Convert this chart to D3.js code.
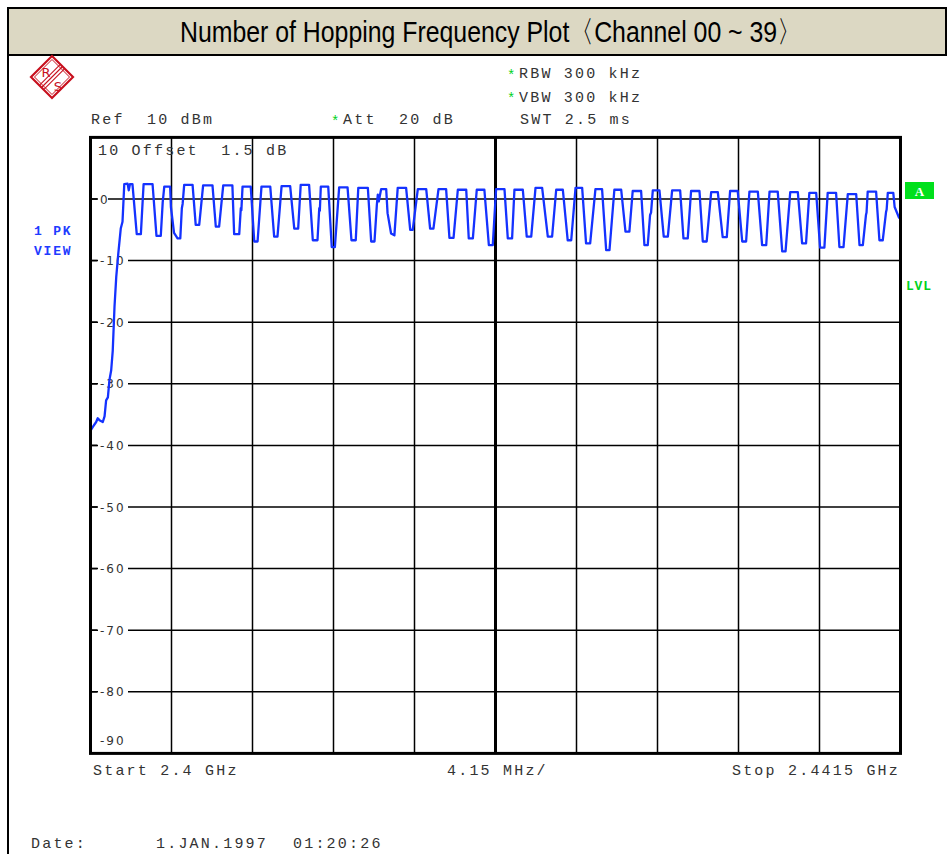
<!DOCTYPE html>
<html>
<head>
<meta charset="utf-8">
<script src="https://cdn.jsdelivr.net/npm/d3@7"></script>
<style>
  html, body { margin: 0; padding: 0; background: #fff; }
  svg { display: block; }
</style>
</head>
<body>
<svg id="chart" width="952" height="854"></svg>
<script>
// ---------------- DATA ----------------
const titleText = "Number of Hopping Frequency Plot\u3008Channel 00 ~ 39\u3009";
const startFreqMHz = 2400;
const stopFreqMHz = 2441.5;
const spanPerDivMHz = 4.15;
const refLevelDbm = 10;
const bottomLevelDbm = -90;
const levelTicks = [0, -10, -20, -30, -40, -50, -60, -70, -80, -90];
const levelTickLabels = ["0", "-10", "-20", "-30", "-40", "-50", "-60", "-70", "-80", "-90"];
const headerLeft = ["Ref  10 dBm"];
const headerAtt = ["Att  20 dB"];
const headerRight = ["RBW 300 kHz", "VBW 300 kHz", "SWT 2.5 ms"];
const offsetLabel = "10 Offset  1.5 dB";
const footerStart = "Start 2.4 GHz";
const footerSpan = "4.15 MHz/";
const footerStop = "Stop 2.4415 GHz";
const dateLabel = ["Date:", "1.JAN.1997", "01:20:26"];

// trace: [frequency MHz, level dBm]
const trace = [
  [2400.00,-37.6],[2400.12,-37.0],[2400.29,-36.2],[2400.37,-35.6],[2400.46,-35.9],[2400.63,-36.2],
  [2400.72,-35.3],[2400.80,-32.7],[2400.89,-32.2],[2400.97,-29.4],[2401.06,-27.8],[2401.14,-24.6],
  [2401.23,-17.5],[2401.32,-12.6],[2401.42,-9.0],[2401.55,-4.8],[2401.64,-3.7],
  [2401.73,2.4],[2401.90,2.5],[2401.96,1.4],[2402.02,2.4],[2402.15,2.4],[2402.37,-5.7],[2402.58,-5.7],
  [2402.72,2.4],[2403.18,2.4],[2403.38,-6.0],[2403.60,-6.0],
  [2403.70,-0.5],[2403.78,2.0],[2404.08,2.0],[2404.12,-1.3],[2404.28,-5.5],[2404.46,-6.4],[2404.60,-6.4],[2404.68,-1.5],[2404.72,-0.8],
  [2404.80,2.3],[2405.23,2.3],[2405.39,-4.2],[2405.57,-4.2],
  [2405.77,2.2],[2406.25,2.2],[2406.42,-4.5],[2406.59,-4.5],
  [2406.80,2.2],[2407.27,2.2],[2407.36,-5.7],[2407.62,-5.7],[2407.70,-1.5],[2407.73,-1.8],
  [2407.79,2.0],[2408.21,2.0],[2408.39,-6.9],[2408.56,-6.9],
  [2408.76,2.0],[2409.21,2.0],[2409.41,-6.1],[2409.58,-6.1],
  [2409.79,2.1],[2410.23,2.1],[2410.44,-4.8],[2410.64,-4.8],
  [2410.77,2.3],[2411.20,2.3],[2411.39,-6.7],[2411.63,-6.7],[2411.72,-1.5],[2411.75,-1.9],
  [2411.80,2.0],[2412.18,2.0],[2412.36,-7.8],[2412.52,-7.8],
  [2412.74,1.9],[2413.17,1.9],[2413.37,-6.7],[2413.59,-6.7],
  [2413.72,1.8],[2414.21,1.8],[2414.38,-6.9],[2414.55,-6.9],
  [2414.67,-1.0],[2414.72,0.7],[2414.77,-0.4],[2414.89,1.6],[2415.15,1.6],[2415.22,-2.3],[2415.40,-5.6],[2415.57,-5.9],
  [2415.74,1.8],[2416.17,1.8],[2416.38,-5.0],[2416.51,-5.0],
  [2416.77,1.6],[2417.20,1.6],[2417.40,-4.8],[2417.57,-4.8],
  [2417.83,1.6],[2418.22,1.6],[2418.39,-6.3],[2418.60,-6.3],
  [2418.82,1.5],[2419.25,1.5],[2419.38,-6.4],[2419.59,-6.4],
  [2419.79,1.5],[2420.18,1.5],[2420.41,-7.5],[2420.61,-7.5],
  [2420.78,1.6],[2421.21,1.6],[2421.38,-6.4],[2421.60,-6.4],
  [2421.72,1.5],[2422.15,1.5],[2422.35,-6.1],[2422.58,-6.1],
  [2422.80,1.8],[2423.14,1.8],[2423.43,-6.1],[2423.65,-6.1],
  [2423.86,1.5],[2424.20,1.5],[2424.45,-6.7],[2424.63,-6.7],
  [2424.85,1.8],[2425.19,1.8],[2425.39,-7.2],[2425.60,-7.2],
  [2425.87,1.6],[2426.21,1.6],[2426.42,-8.3],[2426.59,-8.3],
  [2426.84,1.5],[2427.19,1.5],[2427.41,-5.3],[2427.61,-5.3],
  [2427.78,1.3],[2428.21,1.3],[2428.38,-7.5],[2428.55,-7.5],[2428.67,-2.6],[2428.72,-2.2],
  [2428.81,1.4],[2429.15,1.4],[2429.37,-6.1],[2429.58,-6.1],
  [2429.80,1.4],[2430.21,1.4],[2430.38,-6.4],[2430.60,-6.4],
  [2430.77,1.3],[2431.20,1.3],[2431.37,-6.9],[2431.57,-6.9],
  [2431.80,1.1],[2432.14,1.1],[2432.39,-6.2],[2432.60,-6.2],
  [2432.77,1.3],[2433.16,1.3],[2433.39,-6.9],[2433.59,-6.9],
  [2433.76,1.2],[2434.19,1.2],[2434.41,-7.5],[2434.62,-7.5],
  [2434.79,1.2],[2435.21,1.2],[2435.44,-8.5],[2435.61,-8.5],
  [2435.85,1.1],[2436.24,1.1],[2436.46,-7.2],[2436.66,-7.2],
  [2436.83,1.0],[2437.18,1.0],[2437.38,-7.9],[2437.60,-7.9],
  [2437.77,1.0],[2438.20,1.0],[2438.37,-7.8],[2438.58,-7.8],
  [2438.80,0.8],[2439.23,0.8],[2439.40,-7.5],[2439.57,-7.5],[2439.73,-2.6],[2439.76,-2.2],
  [2439.82,1.2],[2440.25,1.2],[2440.42,-6.7],[2440.59,-6.7],[2440.76,-2.1],[2440.79,-1.7],
  [2440.85,1.0],[2441.13,1.0],[2441.20,-1.3],[2441.42,-3.0],[2441.50,-3.2]
];

// ---------------- DRAW ----------------
const svg = d3.select("#chart");
const MONO = "'Liberation Mono', 'DejaVu Sans Mono', monospace";
const TXT = "#333";

const plot = { left: 90.5, right: 900.5, top: 137.4, bottom: 753.4 };
const x = d3.scaleLinear().domain([startFreqMHz, stopFreqMHz]).range([plot.left, plot.right]);
const y = d3.scaleLinear().domain([bottomLevelDbm, refLevelDbm]).range([plot.bottom, plot.top]);

// title box
svg.append("rect").attr("x", 8).attr("y", 8).attr("width", 938).attr("height", 47)
  .attr("fill", "#dcd8c3").attr("stroke", "#000").attr("stroke-width", 2);
svg.append("text").attr("x", 180).attr("y", 42)
  .attr("textLength", 622).attr("lengthAdjust", "spacingAndGlyphs")
  .attr("font-family", "'Liberation Sans', Arial, sans-serif").attr("font-size", 30)
  .attr("fill", "#000").text(titleText);
// left page border
svg.append("line").attr("x1", 8).attr("x2", 8).attr("y1", 55).attr("y2", 854)
  .attr("stroke", "#000").attr("stroke-width", 2);

// R&S logo
const logo = svg.append("g").attr("transform", "translate(52,77)");
const red = "#c8101e";
logo.append("polygon").attr("points", "0,-21 21,0 0,21 -21,0")
  .attr("fill", "none").attr("stroke", red).attr("stroke-width", 2.2);
logo.append("polygon").attr("points", "0,-17.5 17.5,0 0,17.5 -17.5,0")
  .attr("fill", "none").attr("stroke", red).attr("stroke-width", 1);
[-2.2, 0, 2.2].forEach(o => {
  logo.append("line").attr("x1", 10 + o).attr("y1", -10 + o).attr("x2", -10 + o).attr("y2", 10 + o)
    .attr("stroke", red).attr("stroke-width", 1.1);
});
logo.append("text").attr("x", -6).attr("y", -0.5).attr("text-anchor", "middle")
  .attr("font-family", "'DejaVu Sans', sans-serif").attr("font-size", 13).attr("fill", red).text("R");
logo.append("text").attr("x", 6).attr("y", 13.5).attr("text-anchor", "middle")
  .attr("font-family", "'DejaVu Sans', sans-serif").attr("font-size", 13).attr("fill", red).text("S");

// header texts
function monoText(xp, yp, str, opts = {}) {
  return svg.append("text").attr("x", xp).attr("y", yp)
    .attr("xml:space", "preserve").style("white-space", "pre")
    .attr("font-family", MONO).attr("font-size", opts.size || 15)
    .attr("letter-spacing", opts.ls !== undefined ? opts.ls : 2.2)
    .attr("font-weight", opts.weight || "normal")
    .attr("text-anchor", opts.anchor || "start")
    .attr("fill", opts.fill || TXT).text(str);
}
const green = "#00d21e";
monoText(507, 80, "*", { fill: green, size: 14, ls: 0 });
monoText(519, 78, headerRight[0]);
monoText(507, 103, "*", { fill: green, size: 14, ls: 0 });
monoText(519, 101.5, headerRight[1]);
monoText(520, 124, headerRight[2]);
monoText(91, 124, headerLeft[0]);
monoText(331, 126, "*", { fill: green, size: 14, ls: 0 });
monoText(343, 124, headerAtt[0]);

// side labels
monoText(34, 235, "1 PK", { fill: "#1f3cff", weight: "bold", size: 13, ls: 1.8 });
monoText(34, 255, "VIEW", { fill: "#1f3cff", weight: "bold", size: 13, ls: 1.8 });
svg.append("rect").attr("x", 905).attr("y", 182).attr("width", 29).attr("height", 17).attr("fill", "#00e01c");
svg.append("text").attr("x", 919.5).attr("y", 195.5).attr("text-anchor", "middle")
  .attr("font-family", "'Liberation Serif', serif").attr("font-weight", "bold").attr("font-size", 13)
  .attr("fill", "#fff").text("A");
monoText(906, 290, "LVL", { fill: "#00d21e", weight: "bold", size: 13, ls: 0.8 });

// plot grid
const gGrid = svg.append("g");
const vLines = d3.range(1, 10).map(i => startFreqMHz + i * spanPerDivMHz);
gGrid.selectAll("line.v").data(vLines).join("line").attr("class", "v")
  .attr("x1", d => x(d)).attr("x2", d => x(d)).attr("y1", plot.top).attr("y2", plot.bottom)
  .attr("stroke", "#000").attr("stroke-width", (d, i) => i === 4 ? 3 : 1.5);
const hLines = levelTicks.filter(v => v > bottomLevelDbm);
gGrid.selectAll("line.h").data(hLines).join("line").attr("class", "h")
  .attr("x1", plot.left).attr("x2", plot.right).attr("y1", d => y(d)).attr("y2", d => y(d))
  .attr("stroke", "#000").attr("stroke-width", 1.5);

// level labels (white background to break the grid line)
const labelG = svg.append("g");
levelTicks.forEach((v, i) => {
  const isBottom = v === bottomLevelDbm;
  const yy = isBottom ? y(v) - 13 : y(v);
  const lbl = levelTickLabels[i];
  const w = lbl.length === 1 ? 10 : 30;
  if (!isBottom) {
    labelG.append("rect").attr("x", 98).attr("y", yy - 7).attr("width", w).attr("height", 14).attr("fill", "#fff");
    labelG.append("line").attr("x1", plot.left).attr("x2", 97).attr("y1", yy).attr("y2", yy)
      .attr("stroke", "#000").attr("stroke-width", 1.5);
  }
  labelG.append("text").attr("x", 100).attr("y", yy + 4.5)
    .attr("font-family", "'DejaVu Sans', sans-serif").attr("font-size", 12)
    .attr("letter-spacing", 2).attr("fill", TXT).text(lbl);
});

// offset label inside plot
monoText(98, 155, offsetLabel);

// trace
svg.append("clipPath").attr("id", "clip").append("rect")
  .attr("x", plot.left).attr("y", plot.top).attr("width", plot.right - plot.left).attr("height", plot.bottom - plot.top);
const line = d3.line().x(d => x(d[0])).y(d => y(d[1]));
svg.append("path").datum(trace).attr("d", line).attr("clip-path", "url(#clip)")
  .attr("fill", "none").attr("stroke", "#1432ff").attr("stroke-width", 2.3).attr("stroke-linejoin", "round");

// frame
svg.append("rect").attr("x", plot.left).attr("y", plot.top)
  .attr("width", plot.right - plot.left).attr("height", plot.bottom - plot.top)
  .attr("fill", "none").attr("stroke", "#000").attr("stroke-width", 3);

// footer
monoText(93, 775, footerStart);
monoText(447, 775, footerSpan);
monoText(900, 775, footerStop, { anchor: "end" });
monoText(31, 848, dateLabel[0]);
monoText(156, 848, dateLabel[1]);
monoText(293, 848, dateLabel[2]);
</script>
</body>
</html>
